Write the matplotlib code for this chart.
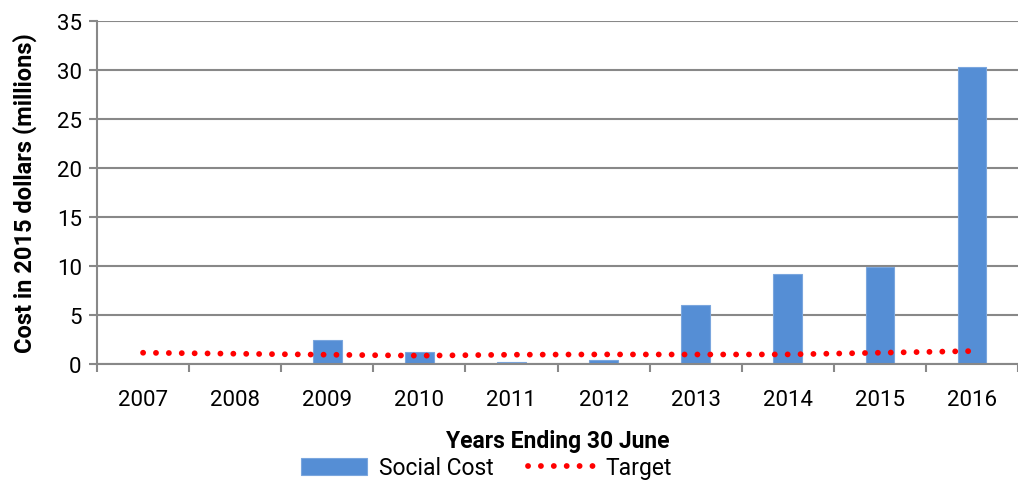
import numpy as np
import matplotlib
matplotlib.use('Agg')
import matplotlib.pyplot as plt

plt.rcParams['font.family'] = ['Roboto', 'DejaVu Sans']

# Data
years = ['2007', '2008', '2009', '2010', '2011', '2012', '2013', '2014', '2015', '2016']
social_cost = [0.0, 0.0, 2.45, 1.25, 0.22, 0.36, 6.0, 9.2, 9.9, 30.3]
target = [1.15, 1.05, 0.95, 0.85, 0.95, 0.98, 0.97, 0.98, 1.15, 1.32]

fig = plt.figure(figsize=(10.18, 4.85), dpi=100)
ax = fig.add_axes([0.0953, 0.2474, 0.9047, 0.7072])

x = np.arange(len(years))
bars = ax.bar(x, social_cost, width=0.31, color='#558ED5', edgecolor='#7AA6DE',
              linewidth=0.8, label='Social Cost', zorder=2)
line, = ax.plot(x, target, color='#FF0000', linewidth=4.2,
                linestyle=(0, (0.01, 2.2)), dash_capstyle='round',
                label='Target', zorder=3)

ax.set_xlim(-0.5, len(years) - 0.5)
ax.set_ylim(0, 35)
ax.set_yticks(range(0, 36, 5))
ax.set_xticks(x)
ax.set_xticklabels(years)
ax.set_xticks(np.arange(-0.5, len(years), 1.0), minor=True)
ax.tick_params(axis='x', which='major', length=0, labelsize=16, pad=18, colors='#000000')
ax.tick_params(axis='x', which='minor', length=6, width=1.5, color='#888888')
ax.tick_params(axis='y', length=6, width=1.5, color='#888888', labelsize=16, pad=5)

ax.grid(axis='y', color='#888888', linewidth=1.5, zorder=0)
ax.set_axisbelow(True)
for side in ['top', 'right']:
    ax.spines[side].set_visible(False)
for side in ['left', 'bottom']:
    ax.spines[side].set_color('#888888')
    ax.spines[side].set_linewidth(1.5)

ax.set_xlabel('Years Ending 30 June', fontsize=16.5, fontweight='bold', labelpad=14)
ax.set_ylabel('Cost in 2015 dollars (millions)', fontsize=17, fontweight='bold', labelpad=14)

ax.legend(handles=[bars, line], loc='center', bbox_to_anchor=(0.423, -0.303), ncol=2,
          frameon=False, fontsize=16.5, handlelength=2.9, handleheight=0.8,
          columnspacing=1.5, handletextpad=0.5, borderpad=0)

fig.savefig('out.png', dpi=100)
